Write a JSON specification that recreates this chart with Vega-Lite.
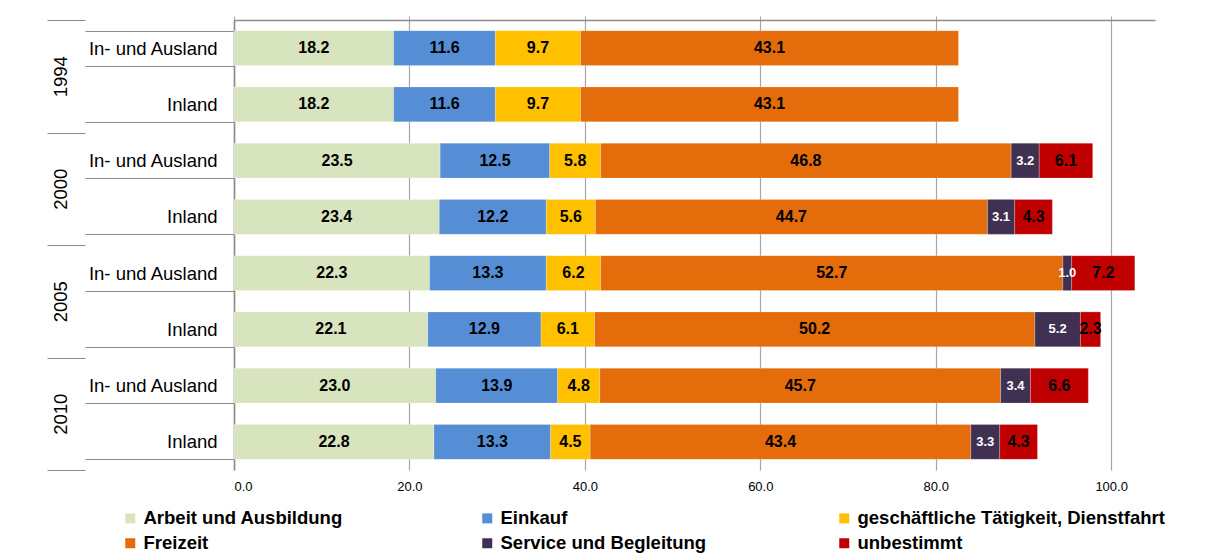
{
  "$schema": "https://vega.github.io/schema/vega-lite/v6.json",
  "width": 921,
  "height": 450,
  "autosize": {"type": "none"},
  "padding": {"left": 234, "top": 20, "right": 77, "bottom": 83},
  "background": "white",
  "config": {
    "view": {"stroke": null},
    "font": "Liberation Sans",
    "axis": {"labelFont": "Liberation Sans", "labelColor": "#000000"}
  },
  "data": {
    "values": [
      {"year": "1994", "type": "In- und Ausland", "cat": "Arbeit und Ausbildung", "value": 18.2},
      {"year": "1994", "type": "In- und Ausland", "cat": "Einkauf", "value": 11.6},
      {"year": "1994", "type": "In- und Ausland", "cat": "geschäftliche Tätigkeit, Dienstfahrt", "value": 9.7},
      {"year": "1994", "type": "In- und Ausland", "cat": "Freizeit", "value": 43.1},
      {"year": "1994", "type": "Inland", "cat": "Arbeit und Ausbildung", "value": 18.2},
      {"year": "1994", "type": "Inland", "cat": "Einkauf", "value": 11.6},
      {"year": "1994", "type": "Inland", "cat": "geschäftliche Tätigkeit, Dienstfahrt", "value": 9.7},
      {"year": "1994", "type": "Inland", "cat": "Freizeit", "value": 43.1},
      {"year": "2000", "type": "In- und Ausland", "cat": "Arbeit und Ausbildung", "value": 23.5},
      {"year": "2000", "type": "In- und Ausland", "cat": "Einkauf", "value": 12.5},
      {"year": "2000", "type": "In- und Ausland", "cat": "geschäftliche Tätigkeit, Dienstfahrt", "value": 5.8},
      {"year": "2000", "type": "In- und Ausland", "cat": "Freizeit", "value": 46.8},
      {"year": "2000", "type": "In- und Ausland", "cat": "Service und Begleitung", "value": 3.2},
      {"year": "2000", "type": "In- und Ausland", "cat": "unbestimmt", "value": 6.1},
      {"year": "2000", "type": "Inland", "cat": "Arbeit und Ausbildung", "value": 23.4},
      {"year": "2000", "type": "Inland", "cat": "Einkauf", "value": 12.2},
      {"year": "2000", "type": "Inland", "cat": "geschäftliche Tätigkeit, Dienstfahrt", "value": 5.6},
      {"year": "2000", "type": "Inland", "cat": "Freizeit", "value": 44.7},
      {"year": "2000", "type": "Inland", "cat": "Service und Begleitung", "value": 3.1},
      {"year": "2000", "type": "Inland", "cat": "unbestimmt", "value": 4.3},
      {"year": "2005", "type": "In- und Ausland", "cat": "Arbeit und Ausbildung", "value": 22.3},
      {"year": "2005", "type": "In- und Ausland", "cat": "Einkauf", "value": 13.3},
      {"year": "2005", "type": "In- und Ausland", "cat": "geschäftliche Tätigkeit, Dienstfahrt", "value": 6.2},
      {"year": "2005", "type": "In- und Ausland", "cat": "Freizeit", "value": 52.7},
      {"year": "2005", "type": "In- und Ausland", "cat": "Service und Begleitung", "value": 1.0},
      {"year": "2005", "type": "In- und Ausland", "cat": "unbestimmt", "value": 7.2},
      {"year": "2005", "type": "Inland", "cat": "Arbeit und Ausbildung", "value": 22.1},
      {"year": "2005", "type": "Inland", "cat": "Einkauf", "value": 12.9},
      {"year": "2005", "type": "Inland", "cat": "geschäftliche Tätigkeit, Dienstfahrt", "value": 6.1},
      {"year": "2005", "type": "Inland", "cat": "Freizeit", "value": 50.2},
      {"year": "2005", "type": "Inland", "cat": "Service und Begleitung", "value": 5.2},
      {"year": "2005", "type": "Inland", "cat": "unbestimmt", "value": 2.3},
      {"year": "2010", "type": "In- und Ausland", "cat": "Arbeit und Ausbildung", "value": 23.0},
      {"year": "2010", "type": "In- und Ausland", "cat": "Einkauf", "value": 13.9},
      {"year": "2010", "type": "In- und Ausland", "cat": "geschäftliche Tätigkeit, Dienstfahrt", "value": 4.8},
      {"year": "2010", "type": "In- und Ausland", "cat": "Freizeit", "value": 45.7},
      {"year": "2010", "type": "In- und Ausland", "cat": "Service und Begleitung", "value": 3.4},
      {"year": "2010", "type": "In- und Ausland", "cat": "unbestimmt", "value": 6.6},
      {"year": "2010", "type": "Inland", "cat": "Arbeit und Ausbildung", "value": 22.8},
      {"year": "2010", "type": "Inland", "cat": "Einkauf", "value": 13.3},
      {"year": "2010", "type": "Inland", "cat": "geschäftliche Tätigkeit, Dienstfahrt", "value": 4.5},
      {"year": "2010", "type": "Inland", "cat": "Freizeit", "value": 43.4},
      {"year": "2010", "type": "Inland", "cat": "Service und Begleitung", "value": 3.3},
      {"year": "2010", "type": "Inland", "cat": "unbestimmt", "value": 4.3}
    ]
  },
  "layer": [
    {
      "transform": [
        {"calculate": "datum.year + '|' + datum.type", "as": "row"},
        {"calculate": "indexof(['Arbeit und Ausbildung','Einkauf','geschäftliche Tätigkeit, Dienstfahrt','Freizeit','Service und Begleitung','unbestimmt'], datum.cat)", "as": "ord"},
        {"stack": "value", "groupby": ["row"], "sort": [{"field": "ord", "order": "ascending"}], "as": ["x0", "x1"]},
        {"calculate": "(datum.x0 + datum.x1) / 2", "as": "mid"}
      ],
      "encoding": {
        "y": {
          "field": "row",
          "type": "nominal",
          "sort": null,
          "scale": {"paddingInner": 0.378, "paddingOuter": 0.189},
          "axis": {
            "title": null,
            "orient": "left",
            "labelExpr": "split(datum.label, '|')[1]",
            "labelFontSize": 18.5,
            "labelPadding": -132,
            "tickBand": "extent",
            "tickSize": 149,
            "tickColor": "#8c8c8c",
            "tickWidth": 1.2,
            "domainColor": "#8c8c8c",
            "domainWidth": 1.6,
            "labelAlign": "right",
            "labelBaseline": "middle"
          }
        },
        "x": {
          "field": "x0",
          "type": "quantitative",
          "scale": {"domain": [0, 105], "nice": false},
          "axis": {
            "title": null,
            "orient": "bottom",
            "values": [0, 20, 40, 60, 80, 100],
            "format": ".1f",
            "grid": true,
            "gridColor": "#a6a6a6",
            "gridWidth": 1.2,
            "domain": false,
            "ticks": false,
            "labelPadding": 10,
            "labelFontSize": 13
          }
        }
      },
      "layer": [
        {
          "mark": {"type": "bar", "stroke": "#ffffff", "strokeWidth": 0.4, "strokeOpacity": 0.6},
          "encoding": {
            "x2": {"field": "x1"},
            "color": {
              "field": "cat",
              "type": "nominal",
              "scale": {
                "domain": ["Arbeit und Ausbildung", "Einkauf", "geschäftliche Tätigkeit, Dienstfahrt", "Freizeit", "Service und Begleitung", "unbestimmt"],
                "range": ["#d7e4bd", "#558ed5", "#ffc000", "#e46c0a", "#403152", "#c00000"]
              },
              "legend": {
                "title": null,
                "orient": "none",
                "legendX": -113,
                "legendY": 489,
                "direction": "horizontal",
                "columns": 3,
                "gridAlign": "all",
                "columnPadding": 27,
                "rowPadding": 6,
                "padding": 0,
                "symbolType": "square",
                "symbolSize": 100,
                "symbolStrokeWidth": 0,
                "labelFontSize": 18.5,
                "labelFontWeight": "bold",
                "labelColor": "#000000",
                "labelOffset": 4,
                "labelLimit": 400
              }
            }
          }
        },
        {
          "mark": {"type": "text", "fontWeight": "bold", "align": "center", "baseline": "middle"},
          "encoding": {
            "x": {"field": "mid", "type": "quantitative"},
            "text": {"field": "value", "type": "quantitative", "format": ".1f"},
            "color": {
              "condition": {"test": "datum.cat === 'Service und Begleitung'", "value": "#ffffff"},
              "value": "#000000"
            },
            "size": {
              "condition": {"test": "datum.cat === 'Service und Begleitung'", "value": 13},
              "value": 16
            }
          }
        }
      ]
    },
    {
      "mark": {"type": "point", "opacity": 0},
      "encoding": {
        "y": {
          "field": "year",
          "type": "nominal",
          "scale": {"type": "band", "paddingInner": 0, "paddingOuter": 0},
          "axis": {
            "title": null,
            "orient": "left",
            "offset": 149,
            "domain": false,
            "tickBand": "extent",
            "tickSize": 38,
            "tickColor": "#8c8c8c",
            "tickWidth": 1.2,
            "labelAngle": -90,
            "labelAlign": "center",
            "labelBaseline": "middle",
            "labelPadding": -13,
            "labelFontSize": 18.5
          }
        },
        "x": {
          "field": "value",
          "type": "quantitative",
          "scale": {"domain": [0, 105], "nice": false},
          "axis": {
            "title": null,
            "orient": "top",
            "values": [0, 20, 40, 60, 80, 100],
            "labels": false,
            "grid": false,
            "ticks": true,
            "tickSize": 4,
            "tickColor": "#a6a6a6",
            "domainColor": "#8c8c8c",
            "domainWidth": 1.4
          }
        }
      }
    }
  ],
  "resolve": {"scale": {"y": "independent", "x": "independent"}}
}
